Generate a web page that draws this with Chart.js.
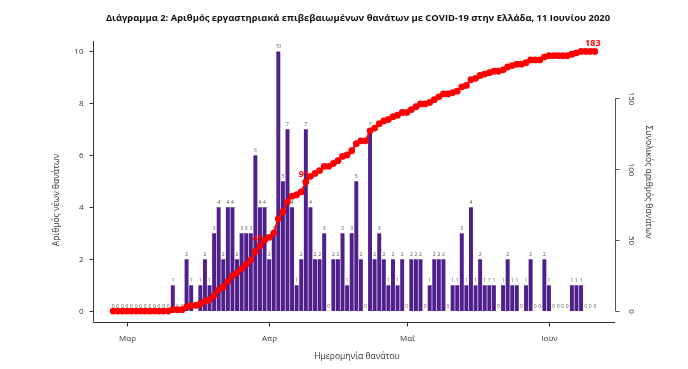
<!DOCTYPE html>
<html><head><meta charset="utf-8">
<script src="https://cdn.jsdelivr.net/npm/chart.js@4.4.1/dist/chart.umd.min.js"></script>
<style>html,body{margin:0;padding:0;background:#fff}#wrap{width:688px;height:369px;position:relative}</style>
</head><body><div id="wrap"><canvas id="c" width="688" height="369"></canvas></div>
<script>
// ---- data ----
const startDate = [2020, 1, 27]; // 27 Feb 2020 (first day shown)
const dailyDeaths = [
  0,0,0,0,0,0,0,0,0,0,0,0,0,
  1,0,0,2,1,0,1,2,1,3,
  4,2,4,4,2,3,3,3,6,4,
  4,2,3,10,5,7,4,1,2,7,
  4,2,2,3,0,2,2,3,1,3,
  5,2,0,7,2,3,2,1,2,1,
  2,0,2,2,2,0,1,2,2,2,
  0,1,1,3,1,4,1,2,1,1,
  1,0,1,2,1,1,0,1,2,0,
  0,2,1,0,0,0,0,1,1,1,
  0,0,0
];
const cumulativeDeaths = [
  0,0,0,0,0,0,0,0,0,0,0,0,0,
  1,1,1,3,4,4,5,7,8,11,
  15,17,21,25,27,30,33,36,42,46,
  50,52,55,65,70,77,81,82,84,91,
  95,97,99,102,102,104,106,109,110,113,
  118,120,120,127,129,132,134,135,137,138,
  140,140,142,144,146,146,147,149,151,153,
  153,154,155,158,159,163,164,166,167,168,
  169,169,170,172,173,174,174,175,177,177,
  177,179,180,180,180,180,180,181,182,183,
  183,183,183
];
const monthTickIndex = [3, 34, 64, 95];
const monthTickLabels = ['Μαρ', 'Απρ', 'Μαΐ', 'Ιουν'];
const leftTicks = [0, 2, 4, 6, 8, 10];
const rightTicks = [0, 50, 100, 150];
const labelledPoints = [32, 42, 105];
const titleText = 'Διάγραμμα 2: Αριθμός εργαστηριακά επιβεβαιωμένων θανάτων με COVID-19 στην Ελλάδα, 11 Ιουνίου 2020';
const xTitle = 'Ημερομηνία θανάτου';
const yTitle = 'Αριθμός νέων θανάτων';
const y2Title = 'Συνολικός αριθμός θανάτων';

const categories = dailyDeaths.map((_, i) => {
  const d = new Date(startDate[0], startDate[1], startDate[2] + i);
  return d.getDate() + '/' + (d.getMonth() + 1);
});

const FONT = '"Open Sans", "Noto Sans", sans-serif';

const drawPlugin = {
  id: 'rstyle',
  afterDatasetDraw(chart, args) {
    if (args.index !== 0) return;
    const ctx = chart.ctx, meta = chart.getDatasetMeta(0);
    ctx.save();
    ctx.font = '5px ' + FONT;
    ctx.fillStyle = '#555';
    ctx.textAlign = 'center';
    ctx.textBaseline = 'alphabetic';
    meta.data.forEach((el, i) => {
      ctx.fillText(String(dailyDeaths[i]), el.x, el.y - 3);
    });
    ctx.restore();
  },
  afterDatasetsDraw(chart) {
    const ctx = chart.ctx, meta = chart.getDatasetMeta(1);
    ctx.save();
    ctx.font = 'bold 9px ' + FONT;
    ctx.fillStyle = '#ff0000';
    ctx.textAlign = 'center';
    ctx.textBaseline = 'alphabetic';
    labelledPoints.forEach(i => {
      const el = meta.data[i];
      ctx.fillText(String(cumulativeDeaths[i]), el.x - 2, el.y - 5);
    });
    ctx.restore();
  },
  afterDraw(chart) {
    const ctx = chart.ctx, a = chart.chartArea;
    const xs = chart.scales.x, ys = chart.scales.y, y2 = chart.scales.y2;
    ctx.save();
    ctx.strokeStyle = '#333';
    ctx.lineWidth = 1;
    ctx.fillStyle = '#333';
    // left axis
    const lx = Math.round(a.left) + 0.5;
    ctx.beginPath();
    ctx.moveTo(lx, a.top); ctx.lineTo(lx, a.bottom);
    ctx.stroke();
    // bottom axis
    const by = Math.round(a.bottom) + 0.5;
    ctx.beginPath();
    ctx.moveTo(a.left, by); ctx.lineTo(a.right, by);
    ctx.stroke();
    // left ticks
    ctx.font = '8px ' + FONT;
    ctx.textAlign = 'right';
    ctx.textBaseline = 'middle';
    leftTicks.forEach(v => {
      const y = Math.round(ys.getPixelForValue(v)) + 0.5;
      ctx.beginPath(); ctx.moveTo(lx - 4, y); ctx.lineTo(lx, y); ctx.stroke();
      ctx.fillText(String(v), lx - 10, y);
    });
    // x ticks
    ctx.textAlign = 'center';
    ctx.textBaseline = 'middle';
    monthTickIndex.forEach((idx, k) => {
      const x = Math.round(xs.getPixelForValue(idx)) + 0.5;
      ctx.beginPath(); ctx.moveTo(x, by); ctx.lineTo(x, by + 4); ctx.stroke();
      ctx.fillText(monthTickLabels[k], x, by + 16);
    });
    // right axis
    ctx.strokeStyle = '#555';
    const rx = Math.round(a.right) + 0.5;
    const r0 = y2.getPixelForValue(rightTicks[0]);
    const r1 = y2.getPixelForValue(rightTicks[rightTicks.length - 1]);
    ctx.beginPath(); ctx.moveTo(rx, r0); ctx.lineTo(rx, r1); ctx.stroke();
    rightTicks.forEach(v => {
      const y = Math.round(y2.getPixelForValue(v)) + 0.5;
      ctx.beginPath(); ctx.moveTo(rx, y); ctx.lineTo(rx + 4, y); ctx.stroke();
      ctx.save();
      ctx.translate(rx + 16, y);
      ctx.rotate(Math.PI / 2);
      ctx.textAlign = 'center';
      ctx.textBaseline = 'middle';
      ctx.fillText(String(v), 0, 0);
      ctx.restore();
    });
    // axis titles
    ctx.font = '8.5px ' + FONT;
    ctx.fillStyle = '#333';
    ctx.textAlign = 'center';
    ctx.textBaseline = 'middle';
    ctx.fillText(xTitle, 357, 357);
    ctx.save();
    ctx.translate(57, 200);
    ctx.rotate(-Math.PI / 2);
    ctx.fillText(yTitle, 0, 0);
    ctx.restore();
    ctx.save();
    ctx.translate(648, 182);
    ctx.rotate(Math.PI / 2);
    ctx.fillText(y2Title, 0, 0);
    ctx.restore();
    // main title (fitted to reference width)
    let fs = 11;
    ctx.font = 'bold ' + fs + 'px ' + FONT;
    const w = ctx.measureText(titleText).width;
    fs = fs * 505 / w;
    ctx.font = 'bold ' + fs.toFixed(2) + 'px ' + FONT;
    ctx.fillStyle = '#111';
    ctx.fillText(titleText, 358, 18);
    ctx.restore();
  }
};

new Chart(document.getElementById('c').getContext('2d'), {
  type: 'bar',
  data: {
    labels: categories,
    datasets: [
      {
        type: 'bar', label: 'Νέοι θάνατοι',
        data: dailyDeaths.map((v, i) => ({ x: i, y: v })),
        backgroundColor: '#4f1f8b',
        borderWidth: 0,
        barPercentage: 0.86, categoryPercentage: 1,
        xAxisID: 'x', yAxisID: 'y', order: 1
      },
      {
        type: 'line', label: 'Συνολικός αριθμός',
        data: cumulativeDeaths.map((v, i) => ({ x: i, y: v })),
        borderColor: '#ff0000', backgroundColor: '#ff0000',
        borderWidth: 2, pointRadius: 3.4, pointBorderWidth: 0,
        pointBackgroundColor: '#ff0000', tension: 0,
        xAxisID: 'x', yAxisID: 'y2', order: 0
      }
    ]
  },
  options: {
    responsive: false, animation: false, devicePixelRatio: 1,
    layout: { padding: { left: 93, right: 73, top: 41, bottom: 47.5 } },
    plugins: { legend: { display: false }, tooltip: { enabled: false }, title: { display: false } },
    scales: {
      x: { type: 'linear', min: -4.4, max: 109.4, display: false, offset: false },
      y: { min: -0.4, max: 10.4, display: false },
      y2: { min: -7.32, max: 190.32, display: false, position: 'right' }
    }
  },
  plugins: [drawPlugin]
});
</script></body></html>
